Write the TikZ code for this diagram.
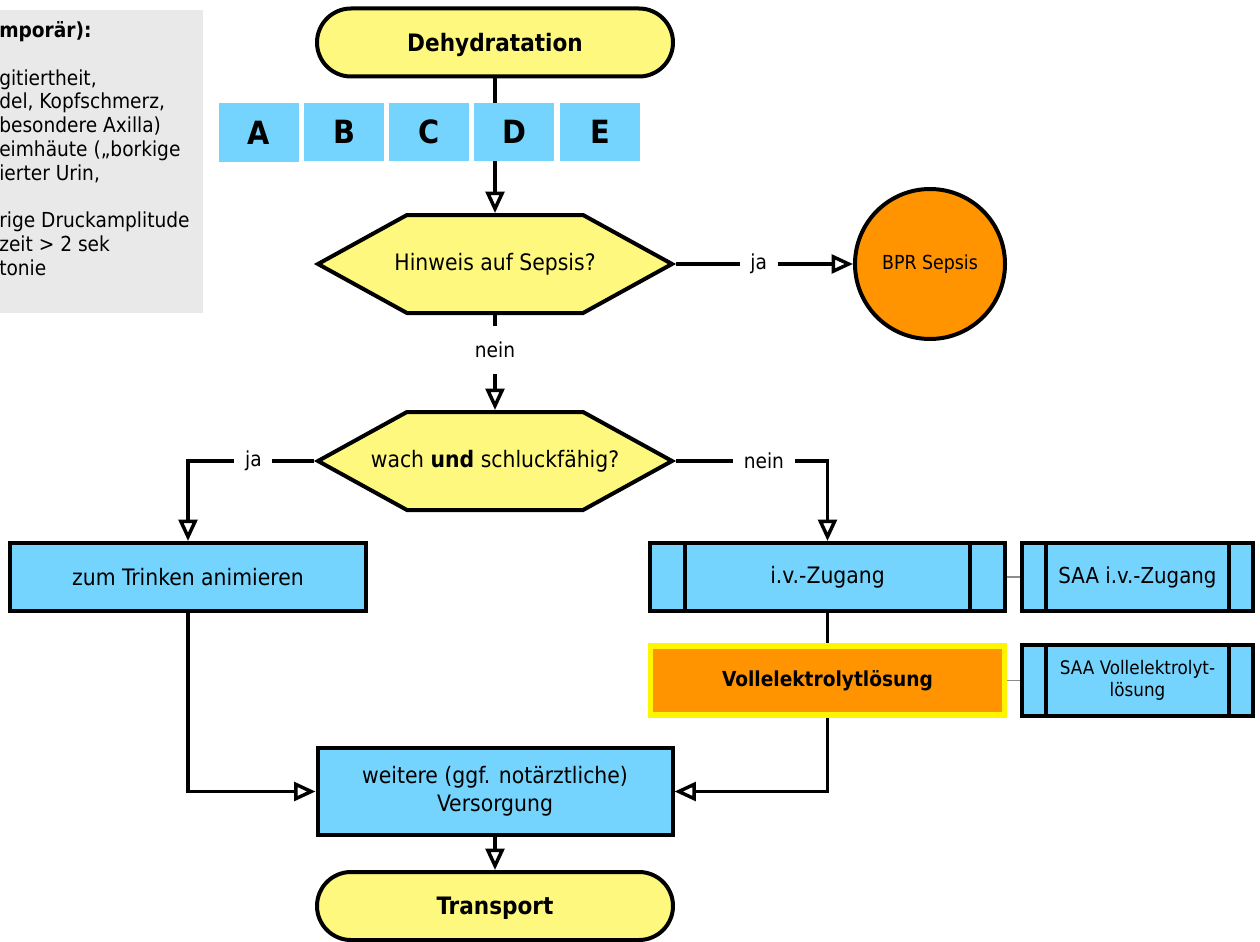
\documentclass[tikz,border=0pt]{standalone}
\usepackage{fontspec}
\setmainfont{DejaVu Sans Condensed}
\usetikzlibrary{shapes.misc,shapes.symbols,arrows.meta,backgrounds}
\definecolor{termyellow}{HTML}{FEF97E}
\definecolor{procblue}{HTML}{75D4FD}
\definecolor{bprorange}{HTML}{FF9400}
\definecolor{hiyellow}{HTML}{FFF500}
\definecolor{notegrey}{HTML}{E9E9E9}
\definecolor{linkgrey}{HTML}{8C8C8C}
% zero-width centred label, so the hexagon size comes from its minimum width alone
\newcommand\hexlabel[1]{\makebox[0pt][c]{#1}}
\begin{document}
\begin{tikzpicture}[x=0.75pt,y=-0.75pt,
  every node/.style={inner sep=0pt, font=\fontsize{17}{20}\selectfont},
  terminal/.style={rounded rectangle, draw, line width=3pt, fill=termyellow,
    minimum width=267pt, minimum height=51pt, text depth=0pt,
    font=\fontsize{18}{21}\selectfont\bfseries},
  decision/.style={signal, signal to=east and west, signal pointer angle=57.7,
    draw, line width=3pt, fill=termyellow, minimum width=265.5pt, minimum height=73.5pt},
  process/.style={rectangle, draw, line width=3pt, fill=procblue,
    minimum width=267pt, minimum height=51pt},
  bars/.style={path picture={
    \draw[line width=3pt]
      ([xshift=#1]path picture bounding box.north west) -- ([xshift=#1]path picture bounding box.south west)
      ([xshift=-#1]path picture bounding box.north east) -- ([xshift=-#1]path picture bounding box.south east);}},
  letterbox/.style={fill=procblue, minimum width=60pt, minimum height=43.5pt,
    font=\fontsize{24}{28}\selectfont\bfseries},
  sepsis/.style={circle, draw, line width=3pt, fill=bprorange, minimum size=112.5pt,
    font=\fontsize{14.5}{17}\selectfont},
  conn/.style={line width=2.8pt},
  arr/.style={conn, -{Triangle[length=16pt,width=14pt,fill=white,line width=2.6pt]}},
  lbl/.style={fill=white, inner xsep=8pt, inner ysep=2pt, font=\fontsize{15.5}{18}\selectfont},
  vlbl/.style={lbl, inner xsep=2pt, inner ysep=12pt},
  link/.style={draw=linkgrey, line width=1.4pt},
  notetext/.style={align=left, font=\fontsize{15.5}{17.8}\selectfont},
]
\useasboundingbox (0,0) rectangle (1260,942);
\clip (0,0) rectangle (1260,942);

% side note with the signs of dehydration
\fill[notegrey] (-10,10) rectangle (203,313);
\node[notetext, anchor=north west] (note) at (-1,21.5) {\textbf{mporär):}\\[17.8pt]
gitiertheit,\\
del, Kopfschmerz,\\
besondere Axilla)\\
eimhäute („borkige\\
ierter Urin,\\[17.8pt]
rige Druckamplitude\\
zeit > 2 sek\\
tonie};

% main flow
\node[terminal] (dehy) at (495,42.5) {Dehydratation};
\node[decision] (h1) at (495,264) {\hexlabel{Hinweis auf Sepsis?}};
\node[sepsis] (bpr) at (930,264) {BPR Sepsis};
\node[decision] (h2) at (495,461) {\hexlabel{wach \textbf{und} schluckfähig?}};
\node[process] (trink) at (188,577) {zum Trinken animieren};
\node[process, bars=26pt, minimum width=266.25pt] (iv) at (827.5,577) {i.v.-Zugang};
\node[process, bars=18pt, minimum width=173.25pt, font=\fontsize{16.5}{20}\selectfont] (saa1) at (1137.5,577) {SAA i.v.-Zugang};
\node[rectangle, draw=hiyellow, line width=4pt, fill=bprorange, minimum width=265.5pt,
  minimum height=51.75pt, font=\fontsize{15.5}{19}\selectfont\bfseries] (voll) at (827.5,680.5) {Vollelektrolytlösung};
\node[process, bars=18pt, minimum width=173.25pt, minimum height=53.25pt, align=center,
  font=\fontsize{14}{16.5}\selectfont] (saa2) at (1137.5,680.5) {SAA Vollelektrolyt-\\lösung};
\node[process, minimum width=266.25pt, minimum height=65.25pt, align=center,
  font=\fontsize{17}{21}\selectfont] (weit) at (495,791.5) {weitere (ggf. notärztliche)\\Versorgung};
\node[terminal] (trans) at (495,906) {Transport};

% connectors
\begin{scope}[on background layer]
\draw[arr] (dehy.south) -- (h1.north);
\draw[arr] (h1.east) -- node[lbl, pos=0.467] {ja} (bpr.west);
\draw[arr] (h1.south) -- node[vlbl, pos=0.37] {nein} (h2.north);
\draw[arr] (h2.west) -| node[lbl, pos=0.24] {ja} (trink.north);
\draw[arr] (h2.east) -| node[lbl, pos=0.29] {nein} (iv.north);
\draw[conn] (iv.south) -- (voll.north);
\draw[arr] (trink.south) |- (weit.west);
\draw[arr] (voll.south) |- (weit.east);
\draw[arr] (weit.south) -- (trans.north);
\draw[link] (iv.east) -- (saa1.west);
\draw[link] (voll.east) -- (saa2.west);
\end{scope}

% ABCDE strip over the first connector
\node[letterbox] (la) at (259,132.5) {A};
\node[letterbox] (lb) at (344,132) {B};
\node[letterbox] (lc) at (429,132) {C};
\node[letterbox] (ld) at (514,132) {D};
\node[letterbox] (le) at (600,132) {E};
\end{tikzpicture}
\end{document}
